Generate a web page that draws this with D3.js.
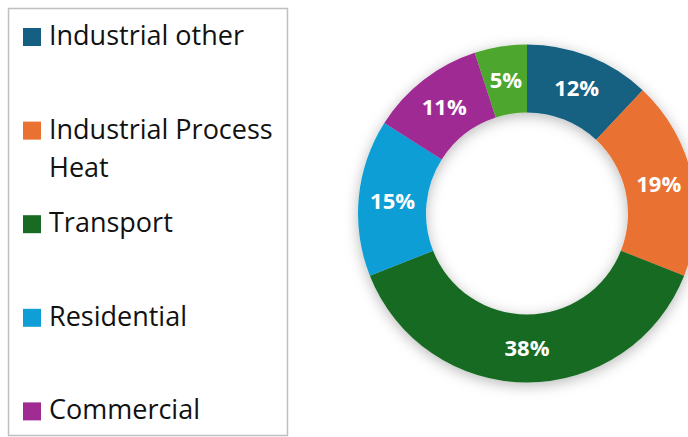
<!DOCTYPE html>
<html>
<head>
<meta charset="utf-8">
<script src="https://cdn.jsdelivr.net/npm/d3@7/dist/d3.min.js"></script>
<style>
  html, body { margin: 0; padding: 0; background: #fff; }
  svg { display: block; }
</style>
</head>
<body>
<svg id="chart" width="688" height="437"></svg>
<script>
// Energy use by sector (share of total, %)
const categories = ["Industrial other", "Industrial Process Heat", "Transport", "Residential", "Commercial", "Agriculture"];
const shares = [12, 19, 38, 15, 11, 5];
const colors = ["#156082", "#E97132", "#196B24", "#0F9ED5", "#A02B93", "#4EA72E"];

const data = categories.map((c, i) => ({ name: c, value: shares[i], color: colors[i] }));

const svg = d3.select("#chart");
const W = 688, H = 437;

// soft drop shadow under the ring
const defs = svg.append("defs");
const f = defs.append("filter").attr("id", "ringShadow")
  .attr("x", "-20%").attr("y", "-20%").attr("width", "140%").attr("height", "140%");
f.append("feDropShadow").attr("dx", 0).attr("dy", 3).attr("stdDeviation", 7)
  .attr("flood-color", "#000").attr("flood-opacity", 0.28);

// ---- legend ----
const legend = svg.append("g");
legend.append("rect")
  .attr("x", 8.5).attr("y", 8.5).attr("width", 279).attr("height", 427)
  .attr("fill", "#fff").attr("stroke", "#bfbfbf").attr("stroke-width", 1.5);

const legendFont = "'Open Sans', 'Noto Sans', sans-serif";
const itemTop = 28, itemStep = 93.6, lineH = 38;
// Wrap long names onto two lines at the legend width
const wrap = { "Industrial Process Heat": ["Industrial Process", "Heat"] };

// only the entries that fit inside the legend frame are listed
data.forEach((d, i) => {
  const y = itemTop + i * itemStep;
  if (y + 20 > H) return;
  const g = legend.append("g");
  g.append("rect").attr("x", 23).attr("y", y).attr("width", 18).attr("height", 18)
    .attr("fill", d.color);
  const lines = wrap[d.name] || [d.name];
  lines.forEach((ln, k) => {
    g.append("text")
      .attr("x", 49).attr("y", y + 17 + k * lineH)
      .attr("font-family", legendFont).attr("font-size", 27)
      .attr("fill", "#111")
      .text(ln);
  });
});

// ---- donut ----
const cx = 527, cy = 213.5, rOuter = 169, rInner = 101;
const pie = d3.pie().value(d => d.value).sort(null);
const arc = d3.arc().innerRadius(rInner).outerRadius(rOuter);
const labelArc = d3.arc().innerRadius((rInner + rOuter) / 2).outerRadius((rInner + rOuter) / 2);

const donut = svg.append("g").attr("transform", `translate(${cx},${cy})`);
const arcs = pie(data);

donut.append("g").attr("filter", "url(#ringShadow)")
  .selectAll("path").data(arcs).join("path")
  .attr("d", arc)
  .attr("fill", d => d.data.color);

donut.append("g").selectAll("text").data(arcs).join("text")
  .attr("transform", d => `translate(${labelArc.centroid(d)})`)
  .attr("text-anchor", "middle")
  .attr("dy", "0.36em")
  .attr("font-family", "'Open Sans', sans-serif")
  .attr("font-weight", "bold")
  .attr("font-size", 22)
  .attr("fill", "#fff")
  .text(d => d.data.value + "%");
</script>
</body>
</html>
